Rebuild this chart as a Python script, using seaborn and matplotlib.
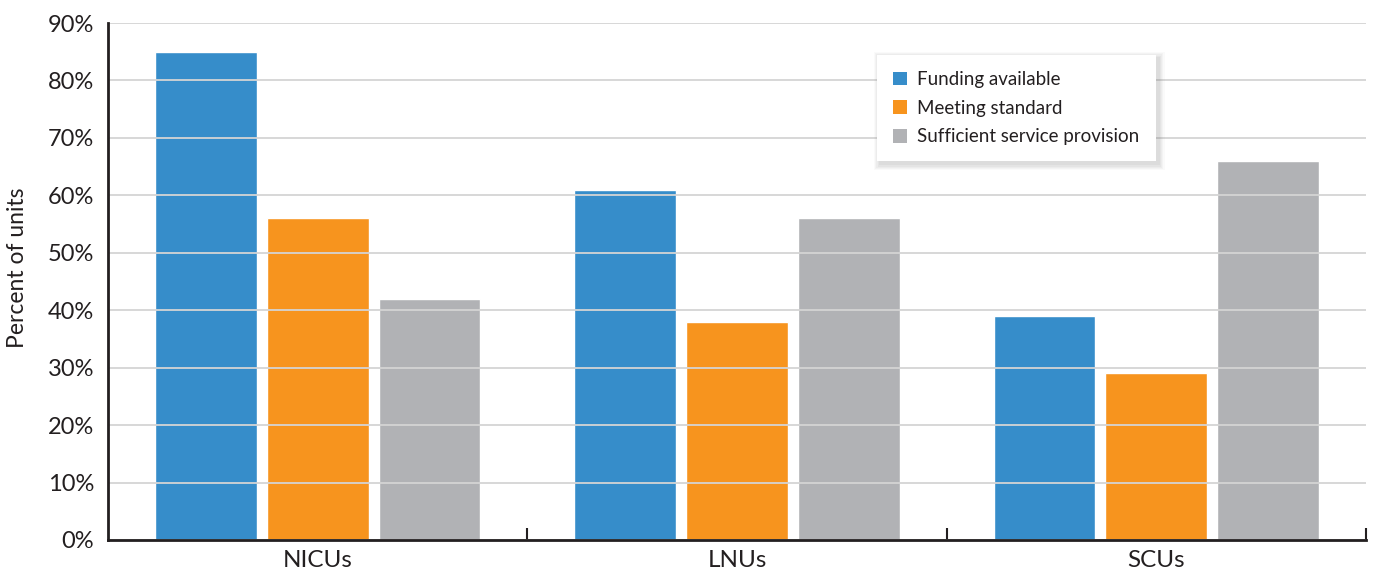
import matplotlib
matplotlib.use("Agg")
import matplotlib.pyplot as plt
import seaborn as sns
import pandas as pd
from matplotlib.patches import Rectangle
from matplotlib.ticker import FixedLocator, FuncFormatter

# Unit types and survey results (percent of units)
units = ["NICUs", "LNUs", "SCUs"]
series = ["Funding available", "Meeting standard", "Sufficient service provision"]
funding_available = [85, 61, 39]
meeting_standard = [56, 38, 29]
sufficient_provision = [42, 56, 66]
y_ticks = [0, 10, 20, 30, 40, 50, 60, 70, 80, 90]

colors = ["#368DCA", "#F7941E", "#B1B2B5"]
ink = "#231f20"
W, H = 1375, 575

df = pd.DataFrame({
    "unit": units * 3,
    "measure": [series[0]] * 3 + [series[1]] * 3 + [series[2]] * 3,
    "value": funding_available + meeting_standard + sufficient_provision,
})

sns.set_theme(style="white")
plt.rcParams["font.family"] = ["Lato", "DejaVu Sans"]

fig = plt.figure(figsize=(W / 100, H / 100), dpi=100)
ax = fig.add_axes([108 / W, (H - 540) / H, (1366 - 108) / W, (540 - 23) / H])

sns.barplot(data=df, x="unit", y="value", hue="measure", order=units,
            hue_order=series, palette=colors, width=0.8, gap=0.09,
            saturation=1, ax=ax, legend=False)

ax.set_xlim(-0.5, 2.5)
ax.set_ylim(0, 90)
ax.yaxis.set_major_locator(FixedLocator(y_ticks))
ax.yaxis.set_major_formatter(FuncFormatter(lambda v, p: f"{int(v)}%"))

# gridlines drawn over the bars
ax.set_axisbelow(False)
ax.grid(axis="y", color="#d4d4d4", linewidth=1.3)
ax.grid(axis="x", visible=False)

for side in ["top", "right"]:
    ax.spines[side].set_visible(False)
for side in ["left", "bottom"]:
    ax.spines[side].set_color(ink)
    ax.spines[side].set_linewidth(2)
    ax.spines[side].set_zorder(5)

ax.tick_params(axis="y", length=0, labelsize=17, labelcolor=ink, pad=10)
ax.tick_params(axis="x", which="major", length=0, labelsize=17.5, labelcolor=ink, pad=7)
ax.xaxis.set_minor_locator(FixedLocator([0.5, 1.5, 2.5]))
ax.tick_params(axis="x", which="minor", direction="in", length=8.5, width=1.5,
               color=ink, bottom=True)

ax.set_xlabel("")
ax.set_ylabel("")
fig.text(18 / W, 1 - 268 / H, "Percent of units", rotation=90, ha="center",
         va="center", fontsize=16.5, color=ink)

# legend with a soft drop shadow
handles = [Rectangle((0, 0), 1, 1, facecolor=c, edgecolor="none") for c in colors]
leg = fig.legend(handles, series, loc="upper left",
                 bbox_to_anchor=(877 / W, 1 - 55 / H), bbox_transform=fig.transFigure,
                 frameon=True, fancybox=False, shadow=False,
                 fontsize=13.5, handlelength=0.75, handleheight=0.75, handletextpad=0.55,
                 labelspacing=0.62, borderpad=0.85, borderaxespad=0)
frame = leg.get_frame()
frame.set_edgecolor("white")
frame.set_linewidth(0)
frame.set_alpha(1)
for t in leg.get_texts():
    t.set_color(ink)
leg.set_zorder(10)

fig.canvas.draw()
bb = leg.get_window_extent()
for i, a in enumerate([0.04, 0.05, 0.06, 0.07, 0.08]):
    grow = (5 - i) * 1.2
    sh = Rectangle(((bb.x0 + 3 - grow) / W, (bb.y0 - 3 - grow) / H),
                   (bb.width + 2 * grow) / W, (bb.height + 2 * grow) / H,
                   transform=fig.transFigure, facecolor="#808080",
                   edgecolor="none", alpha=a, zorder=9)
    fig.add_artist(sh)

fig.savefig("out.png", dpi=100)
